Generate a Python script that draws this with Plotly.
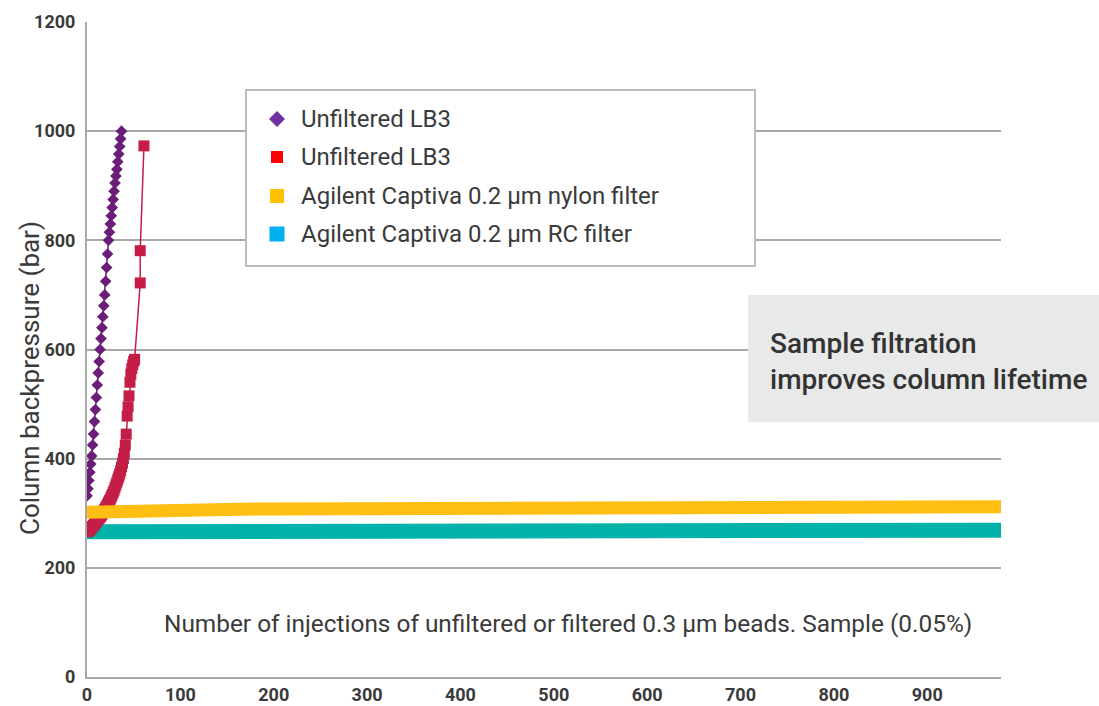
import plotly.graph_objects as go

# ---- data: column backpressure (bar) versus number of injections ----
purple_x = list(range(0, 38))
purple_y = [332, 345, 360, 375, 390, 405, 425, 445, 468, 490, 512, 535, 557,
            578, 600, 620, 640, 660, 680, 700, 725, 750, 775, 800, 815, 830,
            845, 860, 875, 890, 905, 918, 930, 944, 958, 972, 986, 1000]

red_x = list(range(0, 52)) + [57, 57, 61]
red_y = [266, 267, 268, 270, 272, 274, 276, 278, 280, 283, 285, 287, 289,
         291, 293, 295, 298, 301, 304, 307, 310, 313, 316, 320, 323, 326,
         330, 334, 338, 342, 347, 352, 357, 362, 367, 372, 378, 385, 392,
         400, 410, 425, 445, 478, 495, 515, 540, 555, 565, 572, 578, 582,
         722, 781, 973]

band_x = [0, 50, 100, 130, 150, 200, 250, 300, 350, 400, 450, 500, 550, 600,
          650, 700, 750, 800, 850, 900, 950, 979]
nylon_y = [302, 302, 303, 304, 307, 308, 308, 308, 308, 308, 308, 308, 308,
           309, 308, 309, 309, 309, 309, 310, 311, 312]
rc_y = [266, 266, 265, 266, 267, 267, 267, 268, 268, 268, 268, 268, 268, 267,
        268, 268, 268, 268, 268, 268, 268, 269]

x_ticks = [0, 100, 200, 300, 400, 500, 600, 700, 800, 900]
y_ticks = [0, 200, 400, 600, 800, 1000, 1200]

legend_labels = ["Unfiltered LB3", "Unfiltered LB3",
                 "Agilent Captiva 0.2 µm nylon filter",
                 "Agilent Captiva 0.2 µm RC filter"]
legend_colors = ["#7030A0", "#FF0000", "#FFC000", "#00B0F0"]

# ---- figure geometry ----
W, H = 1099, 706
L, R, T, B = 87, 98, 22, 29
PW, PH = W - L - R, H - T - B


def px(x):
    return (x - L) / PW


def py(y):
    return (H - B - y) / PH


TEXT = "Roboto"
TICK_FONT = dict(family="Roboto", size=18, color="#3a3a3a", weight="bold")

fig = go.Figure()

fig.add_trace(go.Scatter(x=band_x, y=rc_y, mode="lines",
                         line=dict(color="#00B2A9", width=15),
                         showlegend=False, hoverinfo="skip"))
fig.add_trace(go.Scatter(x=red_x, y=red_y, mode="lines+markers",
                         line=dict(color="#C41E47", width=1.5),
                         marker=dict(symbol="square", size=11, color="#C41E47"),
                         showlegend=False))
fig.add_trace(go.Scatter(x=band_x, y=nylon_y, mode="lines",
                         line=dict(color="#FFBE12", width=13),
                         showlegend=False, hoverinfo="skip"))
fig.add_trace(go.Scatter(x=purple_x, y=purple_y, mode="lines+markers",
                         line=dict(color="#6A1E78", width=1.5),
                         marker=dict(symbol="diamond", size=9, color="#6A1E78"),
                         showlegend=False))

shapes = []
annotations = []

# legend box
shapes.append(dict(type="rect", xref="paper", yref="paper", layer="above",
                   x0=px(246), x1=px(755), y0=py(266), y1=py(90),
                   fillcolor="white", line=dict(color="#BDBDBD", width=2)))
row_y = [119, 157, 196, 234]
marker_half = [None, 6, 7, 7.5]
for i, (label, color, yy) in enumerate(zip(legend_labels, legend_colors, row_y)):
    if i == 0:
        shapes.append(dict(type="path", xref="paper", yref="paper",
                           xsizemode="pixel", ysizemode="pixel",
                           xanchor=px(277), yanchor=py(yy), layer="above",
                           path="M 0 8 L 8 0 L 0 -8 L -8 0 Z",
                           fillcolor=color, line=dict(width=0)))
    else:
        h = marker_half[i]
        shapes.append(dict(type="rect", xref="paper", yref="paper",
                           xsizemode="pixel", ysizemode="pixel",
                           xanchor=px(277), yanchor=py(yy), layer="above",
                           x0=-h, x1=h, y0=-h, y1=h,
                           fillcolor=color, line=dict(width=0)))
    annotations.append(dict(xref="paper", yref="paper", x=px(299), y=py(yy),
                            xanchor="left", yanchor="middle", showarrow=False,
                            text=label,
                            font=dict(family=TEXT, size=24, color="#3a3a3a")))

# callout box
shapes.append(dict(type="rect", xref="paper", yref="paper", layer="above",
                   x0=px(748), x1=px(1099), y0=py(422), y1=py(295),
                   fillcolor="#E8E9E9", line=dict(width=0)))
annotations.append(dict(xref="paper", yref="paper", x=px(768), y=py(361),
                        xanchor="left", yanchor="middle", showarrow=False,
                        align="left",
                        text="Sample filtration<br>improves column lifetime",
                        font=dict(family=TEXT, size=28, color="#333333",
                                  weight=500)))

# axis titles
annotations.append(dict(xref="paper", yref="paper", x=px(568), y=py(623),
                        xanchor="center", yanchor="middle", showarrow=False,
                        text="Number of injections of unfiltered or filtered "
                             "0.3 µm beads. Sample (0.05%)",
                        font=dict(family=TEXT, size=24.4, color="#3a3a3a")))
annotations.append(dict(xref="paper", yref="paper", x=px(30), y=py(378),
                        xanchor="center", yanchor="middle", showarrow=False,
                        textangle=-90, text="Column backpressure (bar)",
                        font=dict(family=TEXT, size=26, color="#3a3a3a")))

fig.update_layout(
    width=W, height=H,
    margin=dict(l=L, r=R, t=T, b=B, autoexpand=False),
    paper_bgcolor="white", plot_bgcolor="white",
    showlegend=False,
    shapes=shapes, annotations=annotations,
    xaxis=dict(range=[0, 979], tickvals=x_ticks, ticktext=[str(v) for v in x_ticks],
               showgrid=False, zeroline=False, showline=True,
               linecolor="#A8A8A8", linewidth=2, ticks="",
               tickfont=TICK_FONT, ticklabelstandoff=0, automargin=False),
    yaxis=dict(range=[0, 1200], tickvals=y_ticks, ticktext=[str(v) for v in y_ticks],
               showgrid=True, gridcolor="#A8A8A8", gridwidth=2,
               zeroline=False, showline=True, linecolor="#A8A8A8",
               linewidth=2, ticks="", tickfont=TICK_FONT,
               ticklabelstandoff=6, automargin=False),
)

fig.write_html("out.html")
